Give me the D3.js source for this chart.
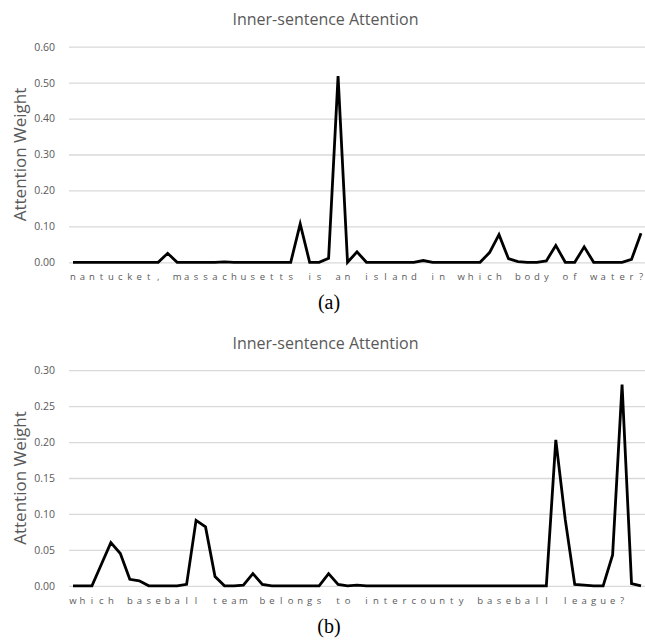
<!DOCTYPE html>
<html>
  <head>
    <meta charset="utf-8">
    <title>Inner-sentence Attention</title>
    <style>
      body { margin: 0; background: #fff; }
    </style>
  </head>
  <body>
    <script src="https://cdn.jsdelivr.net/npm/d3@7/dist/d3.min.js"></script>
    <script type="text/javascript">
      // one category per character of the question
      var charsA = Array.from("nantucket, massachusetts is an island in which body of water?");
      var valsA = [
        0, 0, 0, 0, 0, 0, 0, 0, 0, 0,
        0.025, 0, 0, 0, 0, 0, 0.001, 0, 0, 0,
        0, 0, 0, 0, 0.107, 0, 0, 0.011, 0.518, 0,
        0.029, 0, 0, 0, 0, 0, 0, 0.005, 0, 0,
        0, 0, 0, 0, 0.027, 0.077, 0.010, 0.002, 0, 0,
        0.004, 0.047, 0, 0, 0.043, 0, 0, 0, 0, 0.008,
        0.081
      ];
      var ticksA = [0, 0.1, 0.2, 0.3, 0.4, 0.5, 0.6];

      var charsB = Array.from("which baseball team belongs to intercounty baseball league?  ");
      var valsB = [
        0, 0, 0, 0.030, 0.060, 0.045, 0.009, 0.007, 0, 0,
        0, 0, 0.002, 0.091, 0.082, 0.013, 0, 0, 0.001, 0.017,
        0.002, 0, 0, 0, 0, 0, 0, 0.017, 0.002, 0,
        0.001, 0, 0, 0, 0, 0, 0, 0, 0, 0,
        0, 0, 0, 0, 0, 0, 0, 0, 0, 0,
        0, 0.203, 0.092, 0.002, 0.001, 0, 0, 0.043, 0.280, 0.003,
        0
      ];
      var ticksB = [0, 0.05, 0.1, 0.15, 0.2, 0.25, 0.3];

      var width = 645;
      var height = 641;
      var grey = "#595959";
      var sans = "'Open Sans', sans-serif";

      var svg = d3.select("body")
                  .append("svg")
                  .attr("width", width)
                  .attr("height", height);

      function panel(dy, chars, vals, ticks, caption) {
        var g = svg.append("g").attr("transform", "translate(0," + dy + ")");
        var top = 46.7, bottom = 262.3;

        var x = d3.scalePoint()
                  .domain(d3.range(chars.length))
                  .range([73, 641]);
        var y = d3.scaleLinear()
                  .domain([0, ticks[ticks.length - 1]])
                  .range([bottom, top]);

        g.append("text")
         .attr("x", 325.5)
         .attr("y", 25)
         .attr("text-anchor", "middle")
         .style("font-family", sans)
         .attr("font-size", 16)
         .attr("fill", grey)
         .text("Inner-sentence Attention");

        // gridlines + tick labels
        var yAxis = d3.axisLeft(y)
                      .tickValues(ticks)
                      .tickFormat(d3.format(".2f"))
                      .tickSize(-(width - 69))
                      .tickPadding(14);
        var ga = g.append("g")
                  .attr("transform", "translate(69,0)")
                  .call(yAxis);
        ga.select(".domain").remove();
        ga.selectAll(".tick line").attr("stroke", "#d9d9d9").attr("stroke-width", 1.3);
        ga.selectAll(".tick text")
          .attr("font-family", sans)
          .attr("font-size", 10.5)
          .attr("fill", grey);

        g.append("text")
         .attr("transform", "translate(26," + (top + bottom) / 2 + ") rotate(-90)")
         .attr("text-anchor", "middle")
         .style("font-family", sans)
         .attr("font-size", 17)
         .attr("fill", grey)
         .text("Attention Weight");

        // character labels along the x axis
        g.append("g")
         .selectAll("text")
         .data(chars)
         .enter()
         .append("text")
         .attr("x", function(d, i) { return x(i); })
         .attr("y", bottom + 18)
         .attr("text-anchor", "middle")
         .style("font-family", sans)
         .attr("font-size", 9.5)
         .attr("fill", grey)
         .text(function(d) { return d; });

        var line = d3.line()
                     .x(function(d, i) { return x(i); })
                     .y(function(d) { return y(d); });

        g.append("path")
         .datum(vals)
         .attr("d", line)
         .attr("fill", "none")
         .attr("stroke", "#000")
         .attr("stroke-width", 2.8)
         .attr("stroke-linejoin", "miter")
         .attr("stroke-miterlimit", 10);

        g.append("text")
         .attr("x", 329)
         .attr("y", 309)
         .attr("text-anchor", "middle")
         .style("font-family", "'Liberation Serif', 'DejaVu Serif', serif")
         .attr("font-size", 20)
         .attr("fill", "#000")
         .text(caption);
      }

      panel(0, charsA, valsA, ticksA, "(a)");
      panel(323.5, charsB, valsB, ticksB, "(b)");
    </script>
  </body>
</html>
